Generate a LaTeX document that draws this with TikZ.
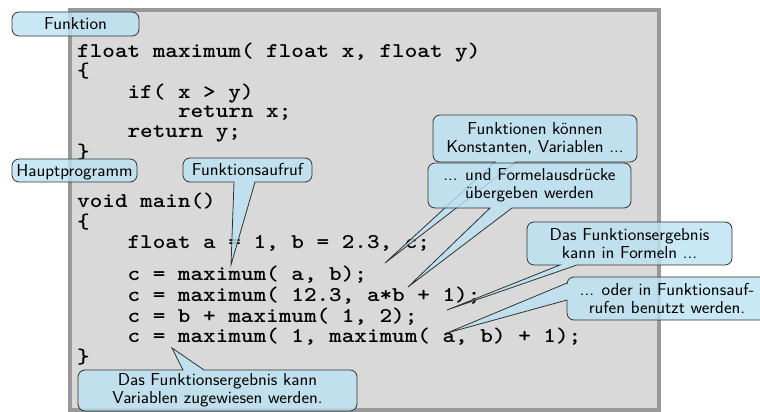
\documentclass[tikz,border=0pt]{standalone}
\usetikzlibrary{calc}
\pgfdeclarelayer{frame}
\pgfdeclarelayer{code}
\pgfdeclarelayer{shape}
\pgfsetlayers{frame,code,shape,main}
\definecolor{framegray}{RGB}{153,153,153}
\definecolor{codebg}{RGB}{217,217,217}
\definecolor{callfill}{RGB}{188,226,242}
\definecolor{callline}{RGB}{50,50,50}
\newcommand\codefont{\fontsize{21}{20}\selectfont\ttfamily\bfseries\frenchspacing}
\newcommand\callfont{\fontsize{17.3}{17.5}\selectfont\sffamily}
\newcommand\cornerrad{7pt}
\newcommand\codeln[1]{\scalebox{1.143}[1]{#1}}
\newcommand\tl[1]{\scalebox{1.05}[1]{#1}}
% #1 node name, #2 top-edge insert, #3 bottom-edge insert, #4 left-edge insert
\newcommand\callpath[4]{%
  \path[cshape] ([xshift=\cornerrad]#1.north west) #2
    -- ([xshift=-\cornerrad]#1.north east) arc[start angle=90,end angle=0,radius=\cornerrad]
    -- ([yshift=\cornerrad]#1.south east) arc[start angle=0,end angle=-90,radius=\cornerrad] #3
    -- ([xshift=\cornerrad]#1.south west) arc[start angle=270,end angle=180,radius=\cornerrad] #4
    -- ([yshift=-\cornerrad]#1.north west) arc[start angle=180,end angle=90,radius=\cornerrad]
    -- cycle;}
\begin{document}
\begin{tikzpicture}[x=1pt,y=1pt,
  codeframe/.style={draw=framegray, line width=4pt, fill=codebg, inner sep=0pt, outer sep=0pt},
  codeline/.style={anchor=base west, inner sep=0pt, font=\codefont, text=black},
  calltext/.style={draw=none, inner sep=0pt, outer sep=0pt, align=center, font=\callfont, text=black},
  onel/.style={text height=12pt, text depth=0pt},
  cshape/.style={fill=callfill, fill opacity=0.8, draw=callline, line width=0.8pt}]
\useasboundingbox (0,0) rectangle (760,412);

\begin{pgfonlayer}{frame}
  \node[codeframe, minimum width=589pt, minimum height=400pt] (codebox) at (364.5,202) {};
\end{pgfonlayer}

\begin{pgfonlayer}{code}
  \node[codeline] (l1) at (77,354) {\codeln{float maximum( float x, float y)}};
  \node[codeline] (l2) at (77,334) {\codeln{\{}};
  \node[codeline] (l3) at (127.4,313.5) {\codeln{if( x > y)}};
  \node[codeline] (l4) at (177.8,294) {\codeln{return x;}};
  \node[codeline] (l5) at (127.4,274) {\codeln{return y;}};
  \node[codeline] (l6) at (77,253.5) {\codeln{\}}};
  \node[codeline] (l7) at (77,204) {\codeln{void main()}};
  \node[codeline] (l8) at (77,183.5) {\codeln{\{}};
  \node[codeline] (l9) at (127.4,163) {\codeln{float a = 1, b = 2.3, c;}};
  \node[codeline] (l10) at (127.4,131) {\codeln{c = maximum( a, b);}};
  \node[codeline] (l11) at (127.4,110.3) {\codeln{c = maximum( 12.3, a*b + 1);}};
  \node[codeline] (l12) at (127.4,89.7) {\codeln{c = b + maximum( 1, 2);}};
  \node[codeline] (l13) at (127.4,69) {\codeln{c = maximum( 1, maximum( a, b) + 1);}};
  \node[codeline] (l14) at (77,48.5) {\codeln{\}}};
\end{pgfonlayer}

% callout texts
\node[calltext, onel, minimum width=127pt, minimum height=24pt] (c1) at (75.5,388) {\tl{Funktion}};
\node[calltext, onel, minimum width=125pt, minimum height=23pt] (c2) at (74.5,241.5) {\tl{Hauptprogramm}};
\node[calltext, onel, minimum width=129pt, minimum height=24pt] (c3) at (247.5,242) {\tl{Funktionsaufruf}};
\node[calltext, minimum width=279pt, minimum height=41pt] (c4) at (217.5,21.5) {\tl{Das Funktionsergebnis kann}\\\tl{Variablen zugewiesen werden.}};
\node[calltext, minimum width=204pt, minimum height=47pt] (c5) at (535,273.5) {\tl{Funktionen können}\\\tl{Konstanten, Variablen ...}};
\node[calltext, minimum width=203pt, minimum height=45pt] (c6) at (529.5,226.5) {\tl{... und Formelausdrücke}\\\tl{übergeben werden}};
\node[calltext, minimum width=205pt, minimum height=43pt] (c7) at (629.5,168.5) {\tl{Das Funktionsergebnis}\\\tl{kann in Formeln ...}};
\node[calltext, minimum width=200pt, minimum height=43pt] (c8) at (667,113.5) {\tl{... oder in Funktionsauf-}\\\tl{rufen benutzt werden.}};

% pointer tips
\coordinate (t3) at (231,147);
\coordinate (t4) at (172,64);
\coordinate (t5) at (385,149);
\coordinate (t6) at (408,125);
\coordinate (t7) at (447,102);
\coordinate (t8) at (447,79);

\begin{pgfonlayer}{shape}
  \callpath{c1}{}{}{}
  \callpath{c2}{}{}{}
  \callpath{c3}{}{-- ([xshift=72pt]c3.south west) -- (t3) -- ([xshift=51pt]c3.south west)}{}
  \callpath{c4}{-- ([xshift=105pt]c4.north west) -- (t4) -- ([xshift=126pt]c4.north west)}{}{}
  \callpath{c5}{}{-- ([xshift=83pt]c5.south west) -- (t5) -- ([xshift=62pt]c5.south west)}{}
  \callpath{c6}{}{-- ([xshift=84pt]c6.south west) -- (t6) -- ([xshift=62pt]c6.south west)}{}
  \callpath{c8}{}{}{-- ([yshift=20pt]c8.south west) -- (t8) -- ([yshift=37pt]c8.south west)}
  \callpath{c7}{}{-- ([xshift=50pt]c7.south west) -- (t7) -- ([xshift=33pt]c7.south west)}{}
\end{pgfonlayer}
\end{tikzpicture}
\end{document}
